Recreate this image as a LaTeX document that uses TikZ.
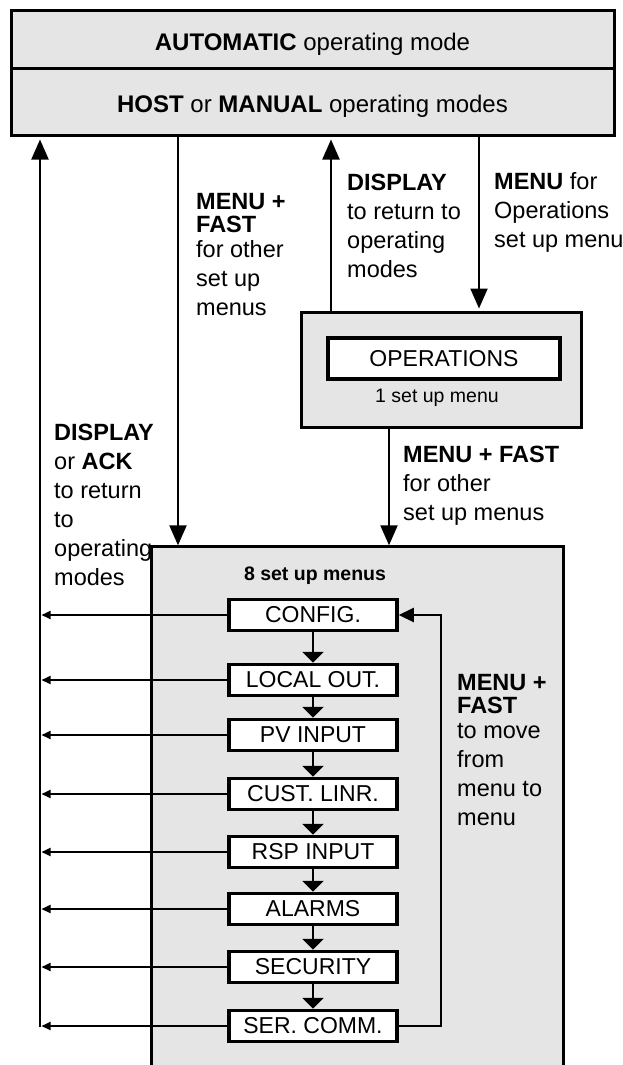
\documentclass[tikz,border=0pt]{standalone}
\usepackage{fontspec}
\setmainfont{Liberation Sans}
\usetikzlibrary{arrows.meta}
\definecolor{boxgray}{RGB}{229,229,229}
\begin{document}
\begin{tikzpicture}[x=1pt,y=-1pt,
  topbox/.style={draw, fill=boxgray, line width=3pt, minimum width=603pt, inner sep=0pt},
  bigbox/.style={fill=boxgray, inner sep=0pt},
  menubox/.style={draw, fill=white, line width=3.5pt, minimum width=168pt, minimum height=31pt, inner sep=0pt, font=\fontsize{23}{28}\selectfont},
  lbl/.style={font=\fontsize{23.5}{29}\selectfont, align=left, inner sep=0pt, anchor=base west},
  toptxt/.style={font=\fontsize{24}{29}\selectfont, inner sep=0pt, anchor=base},
  smalltxt/.style={font=\fontsize{19.5}{23}\selectfont, inner sep=0pt, anchor=base},
  bigarrow/.style={line width=2.2pt, -{Triangle[length=20pt,width=17pt]}},
  midarrow/.style={line width=2.2pt, -{Triangle[length=11pt,width=21pt]}},
  looparrow/.style={line width=2.2pt, -{Triangle[length=15pt,width=14pt]}},
  smallarrow/.style={line width=1.8pt, -{Triangle[length=9pt,width=8pt]}}
]
\useasboundingbox (0,0) rectangle (623,1065);

% left label (drawn first, partly under the big box); anchored at its last baseline
\node[lbl] (lblE) at (54,585) {\textbf{DISPLAY}\\or \textbf{ACK}\\to return\\to\\operating\\modes};

% top boxes
\node[topbox, minimum height=58pt] (auto) at (312.5,40) {};
\node[topbox, minimum height=66pt] (host) at (312.5,102) {};
\node[toptxt] (autotxt) at (312.5,51) {\textbf{AUTOMATIC} operating mode};
\node[toptxt] (hosttxt) at (312.5,112) {\textbf{HOST} or \textbf{MANUAL} operating modes};

% operations box
\node[draw, fill=boxgray, line width=3pt, minimum width=280pt, minimum height=115pt, inner sep=0pt] (ops) at (441,369.5) {};
\node[draw, fill=white, line width=3.5pt, minimum width=232pt, minimum height=41pt, inner sep=0pt, font=\fontsize{23}{28}\selectfont] (opsin) at (444,358.5) {OPERATIONS};
\node[smalltxt] (opsnote) at (437,402) {1 set up menu};

% big box (open at the bottom)
\node[bigbox, minimum width=411pt, minimum height=518pt] (big) at (357.5,806) {};
\draw[line width=3pt] (big.south west) -- (big.north west) -- (big.north east) -- (big.south east);
\node[smalltxt, font=\fontsize{19.5}{23}\selectfont\bfseries] (bignote) at (315,580) {8 set up menus};

% menus
\node[menubox] (m1) at (313,615) {CONFIG.};
\node[menubox] (m2) at (313,680) {LOCAL OUT.};
\node[menubox] (m3) at (313,735) {PV INPUT};
\node[menubox] (m4) at (313,794) {CUST. LINR.};
\node[menubox] (m5) at (313,852) {RSP INPUT};
\node[menubox] (m6) at (313,909) {ALARMS};
\node[menubox] (m7) at (313,967) {SECURITY};
\node[menubox] (m8) at (313,1026) {SER. COMM.};

\foreach \a/\b in {m1/m2,m2/m3,m3/m4,m4/m5,m5/m6,m6/m7,m7/m8}
  \draw[midarrow] (\a.south) -- (\b.north);

% helper coordinates
\coordinate (leftbus) at (40,1027);
\coordinate (c178) at (178,0);
\coordinate (c331) at (331,0);
\coordinate (c479) at (479,0);
\coordinate (c389) at (389,0);
\coordinate (loopx) at (441,0);

% left return bus
\draw[bigarrow, shorten >=3pt] (leftbus) -- (leftbus |- host.south);
\foreach \m in {m1,m2,m3,m4,m5,m6,m7,m8}
  \draw[smallarrow, shorten >=1.5pt] (\m.west) -- (\m.west -| leftbus);

% vertical connectors
\draw[bigarrow, shorten >=1.5pt] (c178 |- host.south) -- (c178 |- big.north);
\draw[bigarrow, shorten >=3pt] (c331 |- ops.north) -- (c331 |- host.south);
\draw[bigarrow, shorten >=2pt] (c479 |- host.south) -- (c479 |- ops.north);
\draw[bigarrow, shorten >=1.5pt] (c389 |- ops.south) -- (c389 |- big.north);

% loop on the right
\draw[looparrow] (m8.east) -- (m8.east -| loopx) -- (m1.east -| loopx) -- (m1.east);

% labels (anchored at the baseline of their last line)
\node[lbl] (lblA) at (196,315) {\textbf{MENU +}\\[-6pt]\textbf{FAST}\\[-4pt]for other\\set up\\menus};
\node[lbl] (lblB) at (347,277) {\textbf{DISPLAY}\\to return to\\operating\\modes};
\node[lbl] (lblC) at (494,247) {\textbf{MENU} for\\Operations\\set up menu};
\node[lbl] (lblD) at (403,520) {\textbf{MENU + FAST}\\for other\\set up menus};
\node[lbl] (lblF) at (457,825) {\textbf{MENU +}\\[-6pt]\textbf{FAST}\\[-4pt]to move\\from\\menu to\\menu};
\end{tikzpicture}
\end{document}
